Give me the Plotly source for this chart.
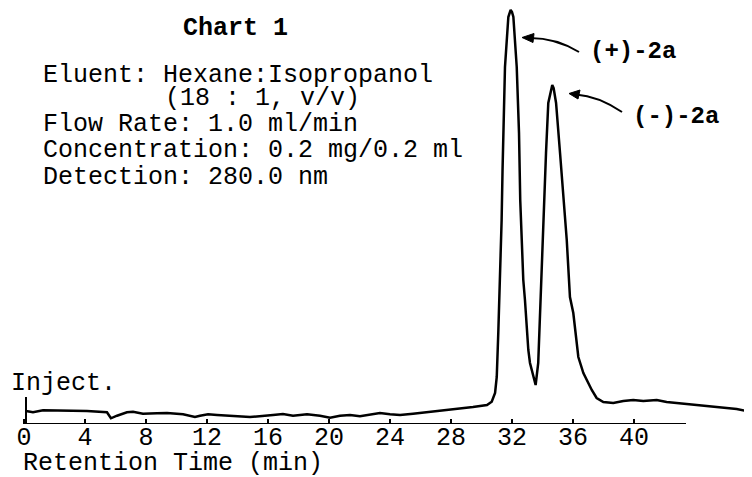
import plotly.graph_objects as go

# ---- data ----
retention_time = [0.13, 0.59, 1.25, 2.82, 4.13, 5.44, 5.70, 6.10, 6.75, 7.15, 7.80, 8.72, 9.38,
                  10.43, 11.21, 11.54, 12.07, 12.66, 13.70, 14.82, 16.33, 16.98, 17.64, 18.56,
                  19.41, 20.07, 20.72, 21.38, 22.03, 22.69, 23.34, 24.00, 24.66, 25.51, 26.43,
                  27.28, 28.39, 29.44, 30.36, 30.67, 30.89, 31.00, 31.10, 31.21, 31.32, 31.38,
                  31.44, 31.54, 31.76, 31.84, 31.91, 32.00, 32.09, 32.31, 32.46, 32.54, 32.60,
                  32.74, 32.85, 32.96, 33.07, 33.18, 33.40, 33.55, 33.72, 33.84, 33.93, 34.03,
                  34.09, 34.23, 34.38, 34.56, 34.64, 34.73, 34.89, 35.15, 35.41, 35.59, 35.80,
                  36.02, 36.35, 36.68, 37.23, 37.55, 37.99, 38.64, 39.30, 39.95, 40.61, 41.49,
                  42.14, 42.80, 43.67, 44.77, 45.86, 46.73, 47.72]
detector_signal = [13, 11.7, 13.7, 13.3, 13, 11.7, 5.7, 8.3, 11.7, 12.3, 10.3, 10.7, 11,
                   9.7, 7, 8.3, 9.7, 9, 7.7, 7, 9, 10, 8.3, 9.7,
                   8.3, 6.3, 8.3, 9, 7.7, 9.7, 11, 9.7, 9, 10.3, 11.7,
                   13, 15, 17, 19, 22.3, 31, 47, 91, 141, 204, 254,
                   291, 357, 407, 412, 414, 412, 407, 357, 291, 224, 194,
                   144, 124, 94, 74, 61, 46, 39, 61, 111, 161, 194,
                   221, 271, 321, 336, 339, 336, 321, 271, 221, 184, 127,
                   111, 67, 51, 34, 26, 22, 21, 23, 24, 23, 24,
                   22, 21, 19, 18, 16, 15, 12]
tick_values = [0, 4, 8, 12, 16, 20, 24, 28, 32, 36, 40]
tick_labels = [str(v) for v in tick_values]
peak_labels = ["(+)-2a", "(-)-2a"]
info_lines = ["Eluent: Hexane:Isopropanol", "(18 : 1, v/v)", "Flow Rate: 1.0 ml/min",
              "Concentration: 0.2 mg/0.2 ml", "Detection: 280.0 nm"]

# ---- layout helpers (window pixel -> axis units) ----
WIN_W, WIN_H = 752, 477
OFF = 8                      # page body margin
W, H = WIN_W - OFF, WIN_H - OFF
AXIS_PX = 424                # axis line, window pixels
PLOT_H = AXIS_PX - OFF
X0_PX, PX_PER_MIN = 24.0, 15.25
def X(px):
    return (px - X0_PX) / PX_PER_MIN
def Y(py):
    return AXIS_PX - py
def PY(py):
    return (AXIS_PX - py) / PLOT_H

FONT = "Courier New, Liberation Mono, monospace"

fig = go.Figure()
fig.add_trace(go.Scatter(x=retention_time, y=detector_signal, mode="lines",
                         line=dict(color="black", width=2.5), hoverinfo="skip"))

shapes = []
shapes.append(dict(type="line", xref="x", yref="y", x0=X(23), x1=X(686), y0=0, y1=0,
                   line=dict(color="black", width=2)))
shapes.append(dict(type="line", xref="x", yref="y", x0=X(26), x1=X(26), y0=0, y1=Y(397),
                   line=dict(color="black", width=2)))
def curve(p0, c, p1):
    return dict(type="path", xref="x", yref="y",
                path=f"M {X(p0[0])},{Y(p0[1])} Q {X(c[0])},{Y(c[1])} {X(p1[0])},{Y(p1[1])}",
                line=dict(color="black", width=2))
def head(tip, b1, b2):
    return dict(type="path", xref="x", yref="y",
                path=f"M {X(tip[0])},{Y(tip[1])} L {X(b1[0])},{Y(b1[1])} L {X(b2[0])},{Y(b2[1])} Z",
                fillcolor="black", line=dict(color="black", width=1))
shapes.append(curve((579, 52), (556, 38), (530, 38)))
shapes.append(head((522, 37.5), (534, 33.5), (533, 42.5)))
shapes.append(curve((622, 112), (598, 96), (576, 94.5)))
shapes.append(head((569, 93.5), (580, 90), (578, 99)))

annotations = []
def text(s, px, py, size=25, anchor="left", bold=False):
    annotations.append(dict(text=f"<b>{s}</b>" if bold else s, x=X(px), y=PY(py), xref="x", yref="paper",
                            xanchor=anchor, yanchor="middle", showarrow=False,
                            font=dict(family=FONT, size=size, color="black")))
text("Chart 1", 235, 28, anchor="center", bold=True)
text(info_lines[0], 41, 75)
text(info_lines[1], 163, 98)
text(info_lines[2], 41, 124)
text(info_lines[3], 41, 150)
text(info_lines[4], 41, 177)
text("Inject.", 9, 383)
text(peak_labels[0], 588, 52, size=24, bold=True)
text(peak_labels[1], 631, 117, size=24, bold=True)
text("Retention Time (min)", 21, 463)

fig.update_layout(
    width=W, height=H, margin=dict(l=0, r=0, t=0, b=WIN_H - AXIS_PX),
    paper_bgcolor="white", plot_bgcolor="white", showlegend=False,
    shapes=shapes, annotations=annotations,
    xaxis=dict(range=[X(OFF), X(WIN_W)], tickvals=tick_values, ticktext=tick_labels,
               ticks="inside", ticklen=5, tickwidth=1.5, tickcolor="black",
               showgrid=False, zeroline=False, showline=False, ticklabelstandoff=-5,
               tickfont=dict(family=FONT, size=25, color="black")),
    yaxis=dict(range=[0, PLOT_H], visible=False, showgrid=False, zeroline=False),
)
fig.write_html("out.html")
